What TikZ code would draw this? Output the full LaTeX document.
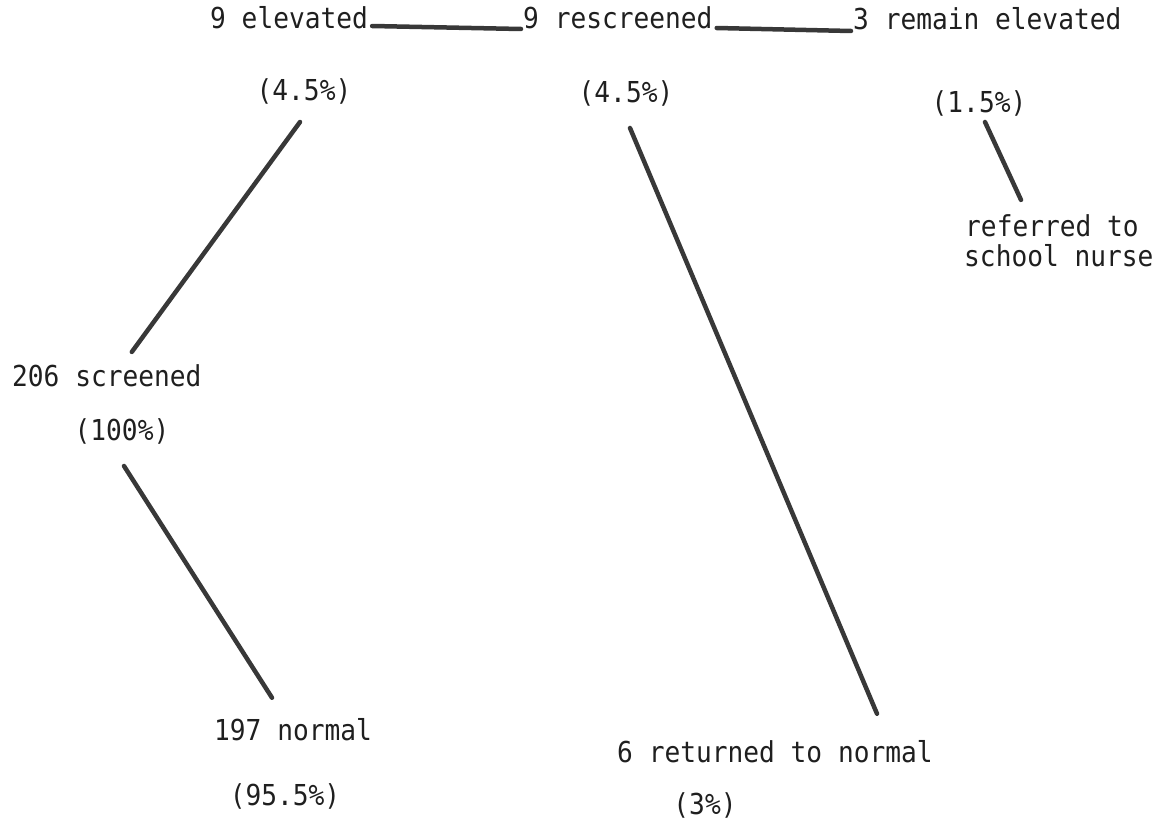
\documentclass[tikz,border=0pt]{standalone}
\usepackage{fontspec}
\usepackage{graphicx}
\setmonofont{DejaVu Sans Mono}
% typewriter face, slightly stretched upright
\newcommand\tw[1]{\scalebox{1}[1.1]{#1}}
\begin{document}
\begin{tikzpicture}[x=1pt,y=-1pt,
  lbl/.style={font=\fontsize{26.2}{31}\selectfont\ttfamily, text=black!88, inner sep=0pt},
  link/.style={line width=4.5pt, line cap=round, draw=black!78}]
\useasboundingbox (0,0) rectangle (1164,819);

% top row: first result and rescreening
\node[lbl,anchor=base west] (el)  at (210,28)  {\tw{9 elevated}};
\node[lbl,anchor=base]      (elp) at (304,100) {\tw{(4.5\%)}};
\node[lbl,anchor=base west] (rs)  at (523,28)  {\tw{9 rescreened}};
\node[lbl,anchor=base]      (rsp) at (626,102) {\tw{(4.5\%)}};
\node[lbl,anchor=base west] (re)  at (853,29)  {\tw{3 remain elevated}};
\node[lbl,anchor=base]      (rep) at (979,112) {\tw{(1.5\%)}};
\node[lbl,anchor=base west] (ref) at (965,236) {\tw{referred to}};
\node[lbl,anchor=base west] (ref2) at (964,266) {\tw{school nurse}};

% all children screened
\node[lbl,anchor=base west] (sc)  at (12,386)  {\tw{206 screened}};
\node[lbl,anchor=base]      (scp) at (122,440) {\tw{(100\%)}};

% bottom row: normal outcomes
\node[lbl,anchor=base west] (no)  at (214,740) {\tw{197 normal}};
\node[lbl,anchor=base]      (nop) at (285,805) {\tw{(95.5\%)}};
\node[lbl,anchor=base west] (rt)  at (617,762) {\tw{6 returned to normal}};
\node[lbl,anchor=base]      (rtp) at (705,814) {\tw{(3\%)}};

% connectors
\draw[link] ([shift={(4,-2)}]el.base east) -- ([shift={(-2,1)}]rs.base west);
\draw[link] ([shift={(4,0)}]rs.base east) -- ([shift={(-2,2)}]re.base west);
\draw[link] ([shift={(-4,18)}]elp.south) -- ([shift={(25,-12)}]sc.north);
\draw[link] ([shift={(2,22)}]scp.south) -- ([shift={(58,-20)}]no.north west);
\draw[link] ([shift={(4,22)}]rsp.south) -- ([shift={(260,-26)}]rt.north west);
\draw[link] ([shift={(6,6)}]rep.south) -- ([shift={(56,-14)}]ref.north west);
\end{tikzpicture}
\end{document}
